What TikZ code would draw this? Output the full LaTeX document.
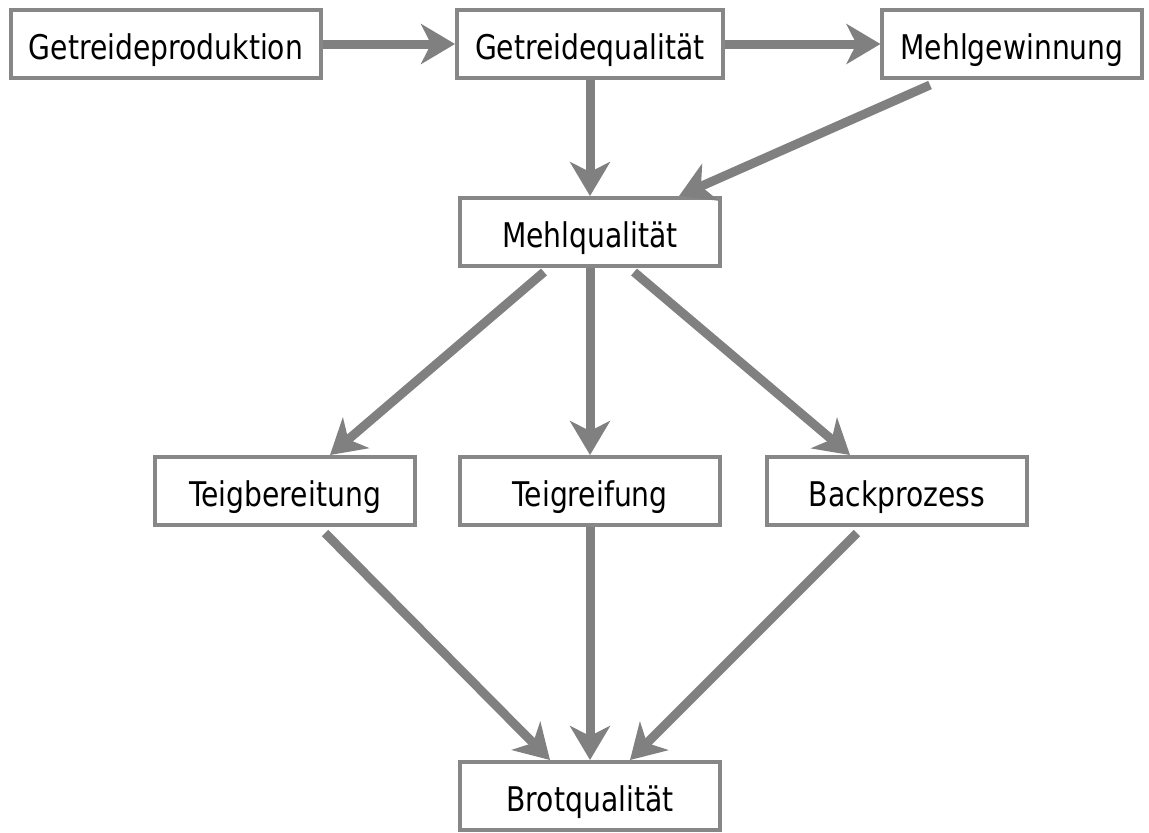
\documentclass[tikz,border=0pt]{standalone}
\usepackage{fontspec}
\setmainfont{DejaVu Sans}[FakeStretch=0.83]
\usepackage{tikz}
\usetikzlibrary{arrows.meta}

\begin{document}
\begin{tikzpicture}[x=1pt, y=1pt,
  box/.style={draw=black!47, line width=2pt, fill=white, minimum width=130pt, minimum height=34pt, inner xsep=9pt, text height=17.4pt, text depth=2pt, font=\fontsize{17pt}{20pt}\selectfont},
  link/.style={draw=black!50, line width=4.5pt, -{Stealth[length=17pt, width=20pt, inset=5pt]}}]
\useasboundingbox (0,0) rectangle (574.5,-416);

\node (getreideproduktion) [box] at (83,-22) {Getreideproduktion};
\node (getreidequalitaet) [box, node distance=212pt, right of=getreideproduktion] {Getreidequalität};
\node (mehlgewinnung) [box, node distance=211pt, right of=getreidequalitaet, minimum width=128pt] {Mehlgewinnung};
\node (mehlqualitaet) [box, node distance=94pt, below of=getreidequalitaet] {Mehlqualität};
\node (teigreifung) [box, node distance=223.5pt, below of=getreidequalitaet] {Teigreifung};
\node (teigbereitung) [box, node distance=152.5pt, left of=teigreifung] {Teigbereitung};
\node (backprozess) [box, node distance=153.5pt, right of=teigreifung] {Backprozess};
\node (brotqualitaet) [box, node distance=152.5pt, below of=teigreifung] {Brotqualität};

\draw [link] (getreideproduktion.east) -- (getreidequalitaet.west);
\draw [link] (getreidequalitaet.east) -- (mehlgewinnung.west);
\draw [link] (getreidequalitaet.south) -- (mehlqualitaet.north);
\draw [link] ([xshift=-41pt, yshift=-2.5pt]mehlgewinnung.south) -- ([xshift=44.5pt]mehlqualitaet.north);

\draw [link] ([xshift=-23pt, yshift=-2pt]mehlqualitaet.south) -- ([xshift=22.5pt]teigbereitung.north);
\draw [link] (mehlqualitaet.south) -- (teigreifung.north);
\draw [link] ([xshift=22pt, yshift=-2pt]mehlqualitaet.south) -- ([xshift=-23.5pt]backprozess.north);

\draw [link] ([xshift=20pt, yshift=-3pt]teigbereitung.south) -- ([xshift=-20pt]brotqualitaet.north);
\draw [link] (teigreifung.south) -- (brotqualitaet.north);
\draw [link] ([xshift=-20pt, yshift=-3pt]backprozess.south) -- ([xshift=20pt]brotqualitaet.north);

\end{tikzpicture}
\end{document}
